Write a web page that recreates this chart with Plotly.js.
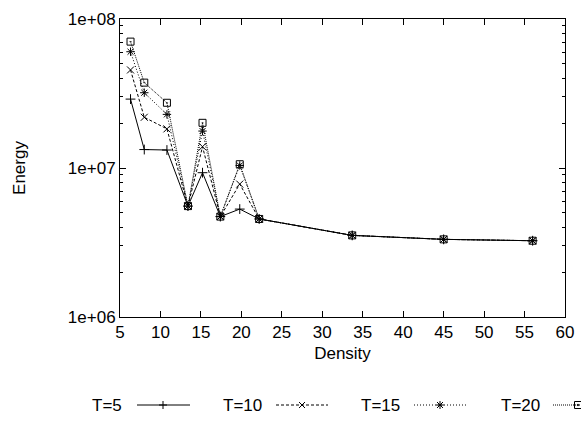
<!DOCTYPE html>
<html>
<head>
<meta charset="utf-8">
<script src="https://cdn.plot.ly/plotly-3.0.1.min.js"></script>
<style>html,body{margin:0;padding:0;background:#fff;}#chart{width:581px;height:423px;}</style>
</head>
<body>
<div id="chart"></div>
<script>
// ---- data ----
const density = [6.3, 8.0, 10.8, 13.4, 15.2, 17.4, 19.8, 22.2, 33.7, 45.0, 56.0];
const energyT5  = [2.9e7, 1.33e7, 1.32e7, 5.55e6, 9.3e6,  4.72e6, 5.3e6,  4.55e6, 3.53e6, 3.32e6, 3.25e6];
const energyT10 = [4.55e7, 2.19e7, 1.83e7, 5.55e6, 1.39e7, 4.72e6, 7.8e6,  4.55e6, 3.53e6, 3.32e6, 3.25e6];
const energyT15 = [6.03e7, 3.2e7,  2.29e7, 5.55e6, 1.77e7, 4.72e6, 1.04e7, 4.55e6, 3.53e6, 3.32e6, 3.25e6];
const energyT20 = [7.05e7, 3.74e7, 2.74e7, 5.55e6, 2.01e7, 4.72e6, 1.06e7, 4.55e6, 3.53e6, 3.32e6, 3.25e6];
const seriesNames = ['T=5', 'T=10', 'T=15', 'T=20'];
const xTickVals = [5, 10, 15, 20, 25, 30, 35, 40, 45, 50, 55, 60];
const yTickVals = [1e6, 1e7, 1e8];
const yTickText = ['1e+06', '1e+07', '1e+08'];
const yMinorVals = [2e6, 3e6, 4e6, 5e6, 6e6, 7e6, 8e6, 9e6, 2e7, 3e7, 4e7, 5e7, 6e7, 7e7, 8e7, 9e7];

// ---- styles ----
const FONT = 'Liberation Sans, Arial, sans-serif';
const FS = 17;
const W = 581, H = 423;
const M = {l: 120, r: 16, t: 19, b: 106};
const styles = [
  {dash: 'solid',    symbol: 'cross-thin',      glyph: 'M-4,0H4M0,-4V4'},
  {dash: '3px,2px',  symbol: 'x-thin',          glyph: 'M-3,-3L3,3M-3,3L3,-3'},
  {dash: '1px,2px',  symbol: 'asterisk',        glyph: 'M-4,0H4M0,-4V4M-3,-3L3,3M-3,3L3,-3'},
  {dash: '1px,1px',  symbol: 'square-open-dot', glyph: 'M-3.5,-3.5H3.5V3.5H-3.5ZM-0.6,-0.6H0.6V0.6H-0.6Z'}
];
const values = [energyT5, energyT10, energyT15, energyT20];

const traces = values.map((v, i) => ({
  x: density, y: v, name: seriesNames[i], type: 'scatter', mode: 'lines+markers',
  line: {color: '#000', width: 1, dash: styles[i].dash},
  marker: {symbol: styles[i].symbol, size: 7, color: '#000', line: {color: '#000', width: 1}},
  showlegend: false
}));
// empty helper trace so the minor-tick overlay axis is drawn
traces.push({x: [], y: [], xaxis: 'x', yaxis: 'y2', type: 'scatter', mode: 'markers', showlegend: false, hoverinfo: 'skip'});

// custom gnuplot-like legend (text then sample)
const pw = W - M.l - M.r, ph = H - M.t - M.b;
const px2x = p => (p - M.l) / pw;
const py2y = p => (H - M.b - p) / ph;
const legY = 405;
const legText = [124, 264, 402, 542];   // right edge of label (px)
const legLine = [[137, 190], [276, 328], [414, 466], [553, 600]];
const legMark = [163, 302, 440, 578];
const annotations = [], shapes = [];
seriesNames.forEach((n, i) => {
  annotations.push({text: n, xref: 'paper', yref: 'paper', x: px2x(legText[i]), y: py2y(legY),
    xanchor: 'right', yanchor: 'middle', showarrow: false, font: {family: FONT, size: FS, color: '#000'}});
  shapes.push({type: 'line', xref: 'paper', yref: 'paper', x0: px2x(legLine[i][0]), x1: px2x(legLine[i][1]),
    y0: py2y(legY), y1: py2y(legY), line: {color: '#000', width: 1, dash: styles[i].dash}});
  shapes.push({type: 'path', xref: 'paper', yref: 'paper', xsizemode: 'pixel', ysizemode: 'pixel',
    xanchor: px2x(legMark[i]), yanchor: py2y(legY),
    path: styles[i].glyph, line: {color: '#000', width: 1}});
});

const layout = {
  width: W, height: H, margin: M,
  paper_bgcolor: '#fff', plot_bgcolor: '#fff',
  font: {family: FONT, size: FS, color: '#000'},
  showlegend: false,
  xaxis: {
    range: [5, 60], tickmode: 'array', tickvals: xTickVals, ticks: 'inside', ticklen: 6, tickwidth: 1, tickcolor: '#000',
    showline: true, linecolor: '#000', linewidth: 1, mirror: 'ticks', showgrid: false, zeroline: false,
    title: {text: 'Density', font: {family: FONT, size: FS}, standoff: 5},
    tickfont: {family: FONT, size: FS}
  },
  yaxis: {
    type: 'log', range: [6, 8], tickmode: 'array', tickvals: yTickVals, ticktext: yTickText, ticks: 'inside', ticklen: 6, tickwidth: 1, tickcolor: '#000',
    showline: true, linecolor: '#000', linewidth: 1, mirror: 'ticks', showgrid: false, zeroline: false,
    title: {text: 'Energy', font: {family: FONT, size: FS}, standoff: 37},
    tickfont: {family: FONT, size: FS}
  },
  yaxis2: {
    type: 'log', range: [6, 8], overlaying: 'y', side: 'left', anchor: 'x',
    tickmode: 'array', tickvals: yMinorVals, showticklabels: false, ticks: 'inside', ticklen: 3, tickwidth: 1, tickcolor: '#000',
    showline: true, linecolor: '#000', mirror: 'ticks', showgrid: false, zeroline: false
  },
  annotations: annotations,
  shapes: shapes
};
Plotly.newPlot('chart', traces, layout, {displayModeBar: false, staticPlot: true});
</script>
</body>
</html>
